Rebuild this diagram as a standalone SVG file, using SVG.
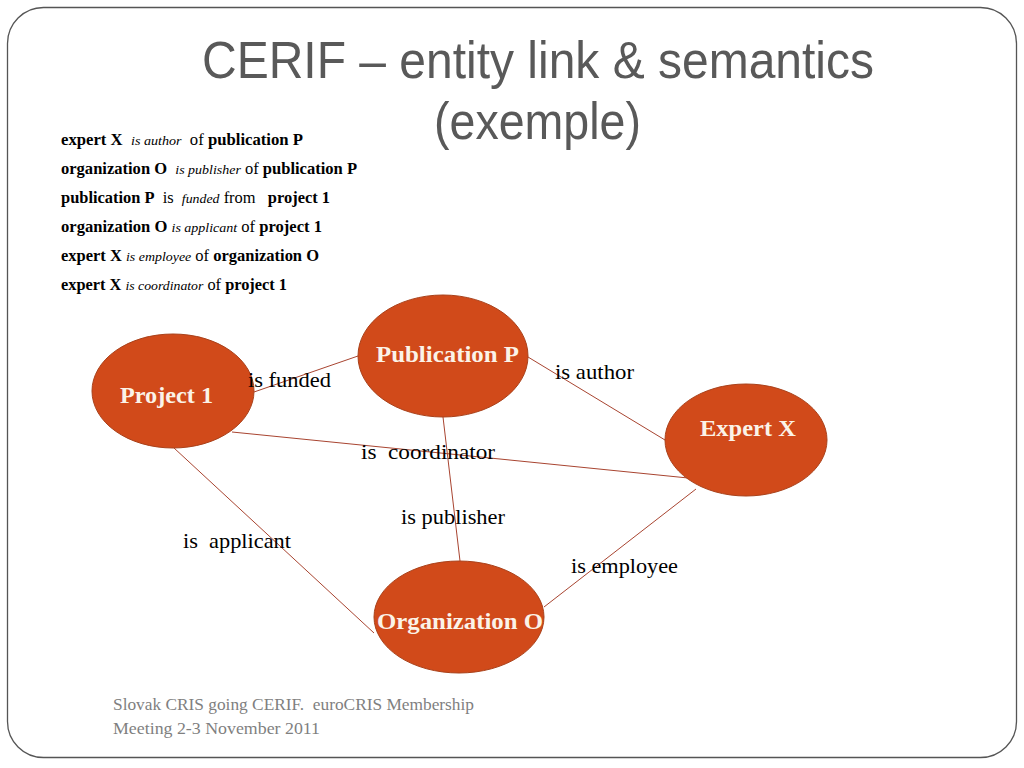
<svg xmlns="http://www.w3.org/2000/svg" width="1024" height="768" viewBox="0 0 1024 768">
<style>
.title{font-family:"Liberation Sans",sans-serif;fill:#595959;font-size:52px}
.body{font-family:"Liberation Serif",serif;font-size:16px;fill:#000}
.b{font-weight:bold}
.i{font-style:italic;font-size:13.5px}
.node{fill:#d14a1a;stroke:#a9411a;stroke-width:1}
.nl{font-family:"Liberation Serif",serif;font-weight:bold;font-size:23px;fill:#fbf3e8}
.edge{stroke:#a84430;stroke-width:1;fill:none}
.el{font-family:"Liberation Serif",serif;font-size:22px;fill:#000}
.foot{font-family:"Liberation Serif",serif;font-size:17px;fill:#7f7f7f}
</style>
<rect x="0" y="0" width="1024" height="768" fill="#fff"/>
<rect x="7.5" y="7.5" width="1009" height="750" rx="36" ry="36" fill="none" stroke="#555" stroke-width="1.3"/>
<text class="title" x="202" y="78" textLength="672" lengthAdjust="spacingAndGlyphs">CERIF – entity link &amp; semantics</text>
<text class="title" x="434" y="139" textLength="207" lengthAdjust="spacingAndGlyphs">(exemple)</text>
<g id="statements" class="body">
<text x="61" y="145" textLength="242" lengthAdjust="spacingAndGlyphs" xml:space="preserve"><tspan class="b">expert X</tspan>  <tspan class="i">is author</tspan>  of <tspan class="b">publication P</tspan></text>
<text x="61" y="174" textLength="296" lengthAdjust="spacingAndGlyphs" xml:space="preserve"><tspan class="b">organization O</tspan>  <tspan class="i">is publisher</tspan> of <tspan class="b">publication P</tspan></text>
<text x="61" y="203" textLength="269" lengthAdjust="spacingAndGlyphs" xml:space="preserve"><tspan class="b">publication P</tspan>  is  <tspan class="i">funded</tspan> from   <tspan class="b">project 1</tspan></text>
<text x="61" y="232" textLength="261" lengthAdjust="spacingAndGlyphs" xml:space="preserve"><tspan class="b">organization O</tspan> <tspan class="i">is applicant</tspan> of <tspan class="b">project 1</tspan></text>
<text x="61" y="261" textLength="258" lengthAdjust="spacingAndGlyphs" xml:space="preserve"><tspan class="b">expert X</tspan> <tspan class="i">is employee</tspan> of <tspan class="b">organization O</tspan></text>
<text x="61" y="290" textLength="226" lengthAdjust="spacingAndGlyphs" xml:space="preserve"><tspan class="b">expert X</tspan> <tspan class="i">is coordinator</tspan> of <tspan class="b">project 1</tspan></text>
</g>
<g id="connectors">
<line class="edge" x1="254" y1="392" x2="358" y2="356"/>
<line class="edge" x1="528" y1="357" x2="665" y2="440"/>
<line class="edge" x1="232" y1="432" x2="698" y2="479"/>
<line class="edge" x1="443" y1="417" x2="460" y2="561"/>
<line class="edge" x1="174" y1="448" x2="374" y2="633"/>
<line class="edge" x1="696" y1="489" x2="544" y2="607"/>
</g>
<g id="project1">
<ellipse class="node" cx="173" cy="391" rx="81" ry="57"/>
<text class="nl" x="120" y="403" textLength="93" lengthAdjust="spacingAndGlyphs">Project 1</text>
</g>
<g id="publicationP">
<ellipse class="node" cx="443" cy="356" rx="85" ry="61"/>
<text class="nl" x="376" y="362" textLength="143" lengthAdjust="spacingAndGlyphs">Publication P</text>
</g>
<g id="expertX">
<ellipse class="node" cx="746" cy="440" rx="81" ry="56"/>
<text class="nl" x="700" y="436" textLength="96" lengthAdjust="spacingAndGlyphs">Expert X</text>
</g>
<g id="organizationO">
<ellipse class="node" cx="459" cy="617" rx="85" ry="56"/>
<text class="nl" x="377" y="629" textLength="166" lengthAdjust="spacingAndGlyphs">Organization O</text>
</g>
<g id="edge-labels" class="el">
<text x="248" y="387" textLength="83" lengthAdjust="spacingAndGlyphs">is funded</text>
<text x="555" y="379" textLength="79" lengthAdjust="spacingAndGlyphs">is author</text>
<text x="361" y="459" textLength="134" lengthAdjust="spacingAndGlyphs" xml:space="preserve">is  coordinator</text>
<text x="401" y="524" textLength="104" lengthAdjust="spacingAndGlyphs">is publisher</text>
<text x="183" y="548" textLength="108" lengthAdjust="spacingAndGlyphs" xml:space="preserve">is  applicant</text>
<text x="571" y="573" textLength="107" lengthAdjust="spacingAndGlyphs">is employee</text>
</g>
<text class="foot" x="113" y="710" xml:space="preserve" textLength="361" lengthAdjust="spacingAndGlyphs">Slovak CRIS going CERIF.  euroCRIS Membership</text>
<text class="foot" x="113" y="734" textLength="207" lengthAdjust="spacingAndGlyphs">Meeting 2-3 November 2011</text>
</svg>
